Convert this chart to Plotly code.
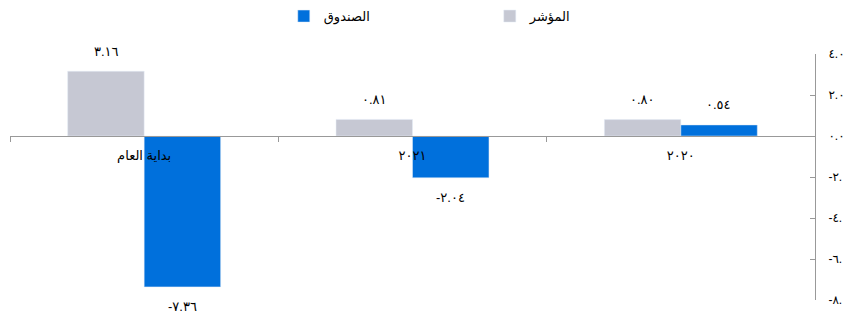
import plotly.graph_objects as go

categories = ["بداية العام", "٢٠٢١", "٢٠٢٠"]
index_vals = [3.16, 0.81, 0.80]
fund_vals = [-7.36, -2.04, 0.54]
index_text = ["٣.١٦", "٠.٨١", "٠.٨٠"]
fund_text = ["-٧.٣٦", "-٢.٠٤", "٠.٥٤"]
y_ticks = [4, 2, 0, -2, -4, -6, -8]
y_tick_text = ["٤.٠", "٢.٠", "٠.٠", "-٢.٠", "-٤.٠", "-٦.٠", "-٨.٠"]

grey = "#C6C8D3"
blue = "#0070DC"
font = "Arial, Liberation Sans, DejaVu Sans, sans-serif"

fig = go.Figure()
fig.add_trace(go.Bar(x=categories, y=index_vals, name="المؤشر", marker_color=grey))
fig.add_trace(go.Bar(x=categories, y=fund_vals, name="الصندوق", marker_color=blue))

# value labels, ~20px beyond the bar end, shifted onto each bar of the group
for vals, texts, dx in [(index_vals, index_text, -38), (fund_vals, fund_text, 38)]:
    for c, v, t in zip(categories, vals, texts):
        fig.add_annotation(x=c, y=v, text=t, showarrow=False, xshift=dx,
                           yshift=20 if v > 0 else -20, yanchor="middle",
                           font=dict(size=13, color="#000", family=font))

# the page body adds an 8px margin, so margins are offset to compensate
fig.update_layout(
    width=851, height=320,
    margin=dict(l=2, r=44, t=46, b=28, autoexpand=False),
    paper_bgcolor="white", plot_bgcolor="white",
    barmode="group", bargap=0.43, bargroupgap=0,
    font=dict(family=font, size=13, color="#000"),
    legend=dict(orientation="h", x=0.596, xanchor="center", y=1.154, yanchor="middle",
                traceorder="reversed", entrywidth=161, entrywidthmode="pixels",
                font=dict(size=13)),
    xaxis=dict(anchor="free", position=8 / 12, showline=True, linecolor="#999",
               linewidth=1, ticks="outside", ticklen=5, tickcolor="#999",
               tickson="boundaries", showgrid=False, zeroline=False,
               tickfont=dict(size=13), ticklabelstandoff=7),
    yaxis=dict(side="right", range=[-8, 4], tickvals=y_ticks, ticktext=y_tick_text,
               showline=True, linecolor="#999", linewidth=1, ticks="inside",
               ticklen=5, tickcolor="#999", showgrid=False, zeroline=False,
               tickfont=dict(size=12), ticklabelstandoff=10),
)

fig.write_html("out.html")
